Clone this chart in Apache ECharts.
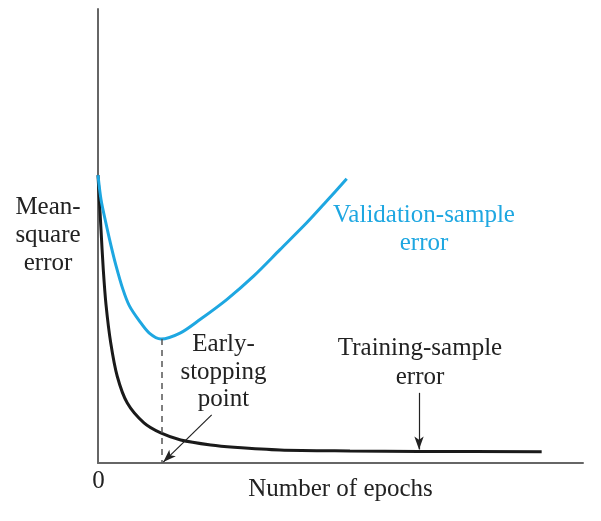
<!DOCTYPE html>
<html>
<head>
<meta charset="utf-8">
<script src="https://cdn.jsdelivr.net/npm/echarts@6/dist/echarts.min.js"></script>
<style>
html,body{margin:0;padding:0;background:#fff;}
#chart{width:601px;height:521px;}
</style>
</head>
<body>
<div id="chart"></div>
<script>
// Epoch positions (x, arbitrary units 0-100) and error values (y, arbitrary units 0-100)
var validationX = [0, 0.62, 1.65, 2.68, 3.71, 5.09, 6.45, 8.52, 10.58, 12.99, 16.91, 21.03, 26.54, 32.02, 37.53, 43.03, 47.15, 51.28];
var validationY = [63.4, 58.06, 52.76, 47.90, 43.49, 38.41, 34.66, 31.3, 28.6, 27.3, 28.6, 31.6, 36.0, 41.1, 47.0, 52.9, 57.7, 62.6];
var trainingX = [0, 0.62, 1.09, 1.65, 2.62, 3.98, 6.04, 9.48, 12.93, 17.05, 23.24, 28.04, 37.53, 51.96, 66.19, 91.48];
var trainingY = [63.4, 51.4, 42.6, 34.9, 26.5, 19.05, 13.2, 8.83, 6.62, 5.08, 3.97, 3.47, 2.87, 2.65, 2.54, 2.49];
var earlyStop = [13.1, 27.3];
var earlyArrow = [[23.44, 10.6], [13.46, 0.2]];
var trainArrow = [[66.19, 15.45], [66.19, 2.98]];
var labels = {
  yName: 'Mean-\nsquare\nerror',
  xName: 'Number of epochs',
  origin: '0',
  early: 'Early-\nstopping\npoint',
  valid: 'Validation-sample\nerror',
  train: 'Training-sample\nerror'
};

function zip(xs, ys){ return xs.map(function(x,i){ return [x, ys[i]]; }); }

var FONT = '"Liberation Serif", "DejaVu Serif", serif';
var CYAN = '#1ea7e1';
var INK = '#1a1a1a';

var chart = echarts.init(document.getElementById('chart'), null, {renderer:'canvas'});
chart.setOption({
  animation: false,
  backgroundColor: '#fff',
  grid: {left: 98, right: 18, top: 9, bottom: 58},
  xAxis: {
    type: 'value', min: 0, max: 100,
    axisLine: {show: true, onZero: false, lineStyle: {color: '#666', width: 2}},
    axisTick: {show: false}, axisLabel: {show: false}, splitLine: {show: false}
  },
  yAxis: {
    type: 'value', min: 0, max: 100,
    axisLine: {show: true, onZero: false, lineStyle: {color: '#666', width: 2}},
    axisTick: {show: false}, axisLabel: {show: false}, splitLine: {show: false}
  },
  series: [
    {
      type: 'line', name: 'Validation-sample error',
      data: zip(validationX, validationY),
      smooth: 0.3, showSymbol: false, symbol: 'none',
      lineStyle: {color: CYAN, width: 3},
      markLine: {
        silent: true, symbol: ['none','none'], label: {show: false},
        lineStyle: {color: '#555', width: 1.5, type: [6, 5]},
        data: [[{coord: [earlyStop[0], earlyStop[1]]}, {coord: [earlyStop[0], 0]}]]
      },
      z: 3
    },
    {
      type: 'line', name: 'Training-sample error',
      data: zip(trainingX, trainingY),
      smooth: 0.3, showSymbol: false, symbol: 'none',
      lineStyle: {color: INK, width: 3},
      markLine: {
        silent: true, symbol: ['none','arrow'], symbolSize: [7, 13], label: {show: false},
        lineStyle: {color: '#222', width: 1.2, type: 'solid'},
        data: [
          [{coord: earlyArrow[0]}, {coord: earlyArrow[1]}],
          [{coord: trainArrow[0]}, {coord: trainArrow[1]}]
        ]
      },
      z: 2
    }
  ],
  graphic: [
    {type: 'text', x: 48, y: 235, style: {text: labels.yName, font: '25px ' + FONT, fill: '#222', align: 'center', verticalAlign: 'middle', lineHeight: 28}},
    {type: 'text', x: 98.5, y: 481, style: {text: labels.origin, font: '25px ' + FONT, fill: '#222', align: 'center', verticalAlign: 'middle'}},
    {type: 'text', x: 340.5, y: 489, style: {text: labels.xName, font: '25px ' + FONT, fill: '#222', align: 'center', verticalAlign: 'middle'}},
    {type: 'text', x: 223.5, y: 372, style: {text: labels.early, font: '25px ' + FONT, fill: '#222', align: 'center', verticalAlign: 'middle', lineHeight: 27.5}},
    {type: 'text', x: 424, y: 229.5, style: {text: labels.valid, font: '25px ' + FONT, fill: CYAN, align: 'center', verticalAlign: 'middle', lineHeight: 28.4}},
    {type: 'text', x: 420, y: 363, style: {text: labels.train, font: '25px ' + FONT, fill: '#222', align: 'center', verticalAlign: 'middle', lineHeight: 28.4}}
  ]
});
</script>
</body>
</html>
